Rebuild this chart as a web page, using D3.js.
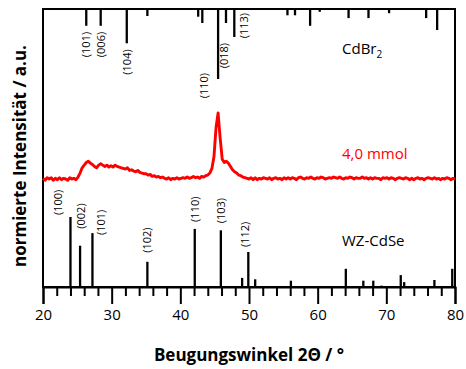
<!DOCTYPE html>
<html><head><meta charset="utf-8">
<script src="https://cdn.jsdelivr.net/npm/d3@7"></script>
<style>body{margin:0;background:#fff}svg{display:block}text{font-family:"Open Sans",sans-serif}</style>
</head><body><svg id="c" width="466" height="369"></svg>
<script>
// ---- data ----
const xTicks = [20, 30, 40, 50, 60, 70, 80];
const cdbr2Angles = [26.3, 28.4, 32.2, 35.2, 42.6, 43.2, 45.5, 46.65, 47.86, 55.6, 56.7, 58.9, 60.3, 64.5, 67.4, 70.4, 75.8, 77.4];
const cdbr2Intens = [24, 24, 49, 10, 11, 20, 100, 20, 40, 9, 9, 24, 4, 13, 13, 6, 13, 30];
const cdseAngles = [24.0, 25.4, 27.2, 35.2, 42.1, 45.9, 49.0, 49.9, 50.9, 56.1, 64.1, 66.65, 68.1, 69.3, 72.1, 72.6, 77.0, 79.6];
const cdseIntens = [100, 59, 77, 36, 83, 81, 13, 50, 11, 9, 26, 9, 9, 2, 17, 7, 10, 26];
const cdbr2Labels = ["(101)", "(006)", "(104)", "(110)", "(018)", "(113)"];
const cdbr2LabelIdx = [0, 1, 2, 6, 7, 8];
const cdseLabels = ["(100)", "(002)", "(101)", "(102)", "(110)", "(103)", "(112)"];
const cdseLabelIdx = [0, 1, 2, 3, 4, 5, 7];
const xrdStart = 20, xrdStep = 0.3;
const xrdIntens = [
  1,-2,2,0,2,-2,1,-1,2,-1,
  1,0,-2,2,0,1,-1,3,9,17,
  21,25,27,24,22,19,17,21,23,21,
  19,21,18,20,18,21,19,18,17,16,
  15,17,13,14,12,11,13,10,9,8,
  8,6,7,4,5,3,4,2,3,1,
  0,2,-1,1,0,2,0,1,2,1,
  3,1,2,4,2,3,1,4,3,5,
  6,9,16,34,78,100,62,30,25,27,
  24,19,14,11,9,6,5,3,2,1,
  0,2,-1,2,-1,1,0,2,1,0,
  2,-1,1,2,0,1,-1,2,0,2,
  0,2,1,-1,2,3,1,0,2,1,
  3,1,0,2,1,3,2,0,1,2,
  1,3,2,1,3,1,0,2,1,3,
  2,0,2,1,1,3,1,2,0,2,
  0,2,1,1,-1,2,1,2,0,2,
  1,-1,1,2,1,0,2,1,-1,1,
  -1,1,2,0,1,-1,1,2,1,0,
  2,0,1,-1,1,0,2,1,-1,1,
  0
];
const sampleLabel = "4,0 mmol";

// ---- layout ----
const L = 43, R = 455, T = 9, B = 287;
const svg = d3.select("#c");
const x = d3.scaleLinear().domain([20, 80]).range([L, R]);
const yBr = d3.scaleLinear().domain([0, 100]).range([T, T + 70]);   // hanging sticks
const ySe = d3.scaleLinear().domain([0, 100]).range([B, B - 70]);   // rising sticks
const yX = d3.scaleLinear().domain([0, 100]).range([179, 113]);     // measured pattern

// label nudges (layout only): [dx, dy]
const brNudge = [[0, 6], [0, 6], [0, 6], [-14, -6], [-1.5, 20], [10, -24]];
const seNudge = [[-12.5, -2], [1.5, -17], [9, 2], [0, -9], [0, -7], [0, -7], [-3, -5]];

// frame
svg.append("rect").attr("x", L).attr("y", T).attr("width", R - L).attr("height", B - T)
  .attr("fill", "none").attr("stroke", "#000").attr("stroke-width", 2);

// CdBr2 sticks
svg.append("g").selectAll("line").data(cdbr2Angles).join("line")
  .attr("x1", d => x(d)).attr("x2", d => x(d))
  .attr("y1", yBr(0)).attr("y2", (d, i) => yBr(cdbr2Intens[i]))
  .attr("stroke", "#000").attr("stroke-width", 2.3);

// CdSe sticks
svg.append("g").selectAll("line").data(cdseAngles).join("line")
  .attr("x1", d => x(d)).attr("x2", d => x(d))
  .attr("y1", ySe(0)).attr("y2", (d, i) => ySe(cdseIntens[i]))
  .attr("stroke", "#000").attr("stroke-width", 2.3);

// CdBr2 labels
cdbr2Labels.forEach((lab, k) => {
  const i = cdbr2LabelIdx[k];
  const px = x(cdbr2Angles[i]) + brNudge[k][0];
  const py = yBr(cdbr2Intens[i]) + brNudge[k][1];
  svg.append("text").attr("transform", `translate(${px},${py}) rotate(-90)`)
    .attr("text-anchor", "end").attr("dy", "0.35em").attr("font-size", 11).text(lab);
});
// CdSe labels
cdseLabels.forEach((lab, k) => {
  const i = cdseLabelIdx[k];
  const px = x(cdseAngles[i]) + seNudge[k][0];
  const py = ySe(cdseIntens[i]) + seNudge[k][1];
  svg.append("text").attr("transform", `translate(${px},${py}) rotate(-90)`)
    .attr("text-anchor", "start").attr("dy", "0.35em").attr("font-size", 11).text(lab);
});

// measured pattern
const line = d3.line().x((d, i) => x(xrdStart + i * xrdStep)).y(d => yX(d));
svg.append("path").datum(xrdIntens).attr("d", line)
  .attr("fill", "none").attr("stroke", "#ff0000").attr("stroke-width", 2.9).attr("stroke-linejoin", "round");

// series labels
const br = svg.append("text").attr("x", 342).attr("y", 54).attr("font-size", 15).attr("fill", "#000");
br.append("tspan").text("CdBr");
br.append("tspan").attr("font-size", 10).attr("dy", 4).text("2");
svg.append("text").attr("x", 342).attr("y", 159).attr("font-size", 15).attr("fill", "#ff0000").text(sampleLabel);
svg.append("text").attr("x", 342).attr("y", 246).attr("font-size", 15).attr("fill", "#000").text("WZ-CdSe");

// x axis
const minor = d3.range(20, 81, 2).filter(v => v % 10 !== 0);
svg.append("g").attr("transform", `translate(0,${B})`)
  .call(d3.axisBottom(x).tickValues(minor).tickSize(9).tickFormat(""))
  .call(g => g.select(".domain").remove())
  .call(g => g.selectAll("line").attr("stroke-width", 2));
const ax = svg.append("g").attr("transform", `translate(0,${B})`)
  .call(d3.axisBottom(x).tickValues(xTicks).tickSize(17).tickPadding(5).tickFormat(d3.format("d")));
ax.select(".domain").attr("stroke-width", 2);
ax.selectAll("line").attr("stroke-width", 2);
ax.selectAll("text").attr("font-size", 15).attr("font-family", "'Open Sans', sans-serif").attr("fill", "#000");

// axis titles
svg.append("text").attr("x", (L + R) / 2).attr("y", 361).attr("text-anchor", "middle")
  .attr("font-size", 17).attr("font-weight", "bold").text("Beugungswinkel 2Θ / °");
svg.append("text").attr("transform", `translate(20,156) rotate(-90)`).attr("text-anchor", "middle")
  .attr("dy", "0.35em").attr("font-size", 17).attr("font-weight", "bold").text("normierte Intensität / a.u.");
</script></body></html>
